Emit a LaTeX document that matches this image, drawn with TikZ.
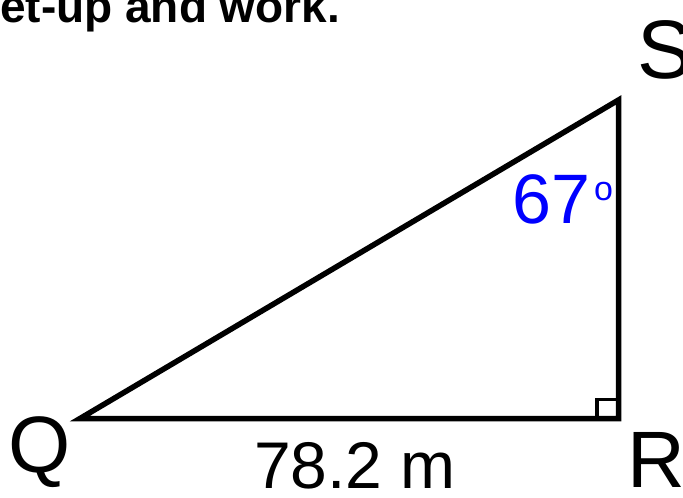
\documentclass[tikz,border=0pt]{standalone}
\usepackage{fontspec}
\setmainfont{Liberation Sans}
\usetikzlibrary{positioning}

\tikzset{
  side/.style={line width=5.5pt, line join=miter},
  vertexlabel/.style={anchor=base west, inner sep=0pt, font=\fontsize{80}{80}\selectfont},
  anglelabel/.style={anchor=base west, inner sep=0pt, text=blue, font=\fontsize{70}{70}\selectfont}
}

\begin{document}
\begin{tikzpicture}[x=1pt, y=-1pt]

% Fix the page to the reference size
\useasboundingbox (0,0) rectangle (683,498);

% Define the coordinates for the vertices of the triangle
\coordinate (Q) at (80,418.5);
\coordinate (R) at (618.5,418.5);
\coordinate (S) at (618.5,100);

% Draw the triangle outline
\draw[side] (Q) -- (R) -- (S) -- cycle;

% Draw the right angle symbol
\draw[line width=3.5pt] ([xshift=-2.75pt]R) -- ++(-19,0) -- ++(0,-19) -- ++(19,0);

% Heading cut off at the top of the page
\node[anchor=base west, inner sep=0pt, font=\fontsize{46}{46}\bfseries] (title) at (0,22) {et-up and work.};

% Vertex labels
\node[vertexlabel] (labelQ) at (8,472) {Q};
\node[vertexlabel] (labelR) at (627,487) {R};
\node[vertexlabel, font=\fontsize{83}{83}\selectfont] (labelS) at (637,78) {S};

% Side length and angle
\node[anchor=base west, inner sep=0pt, font=\fontsize{66}{66}\selectfont] (base) at (254,488) {78.2 m};
\node[anglelabel] (angle) at (512,223) {67};
\node[anchor=base west, inner sep=0pt, text=blue, font=\fontsize{34}{34}\selectfont] (degree) at (594,200) {o};

\end{tikzpicture}
\end{document}
